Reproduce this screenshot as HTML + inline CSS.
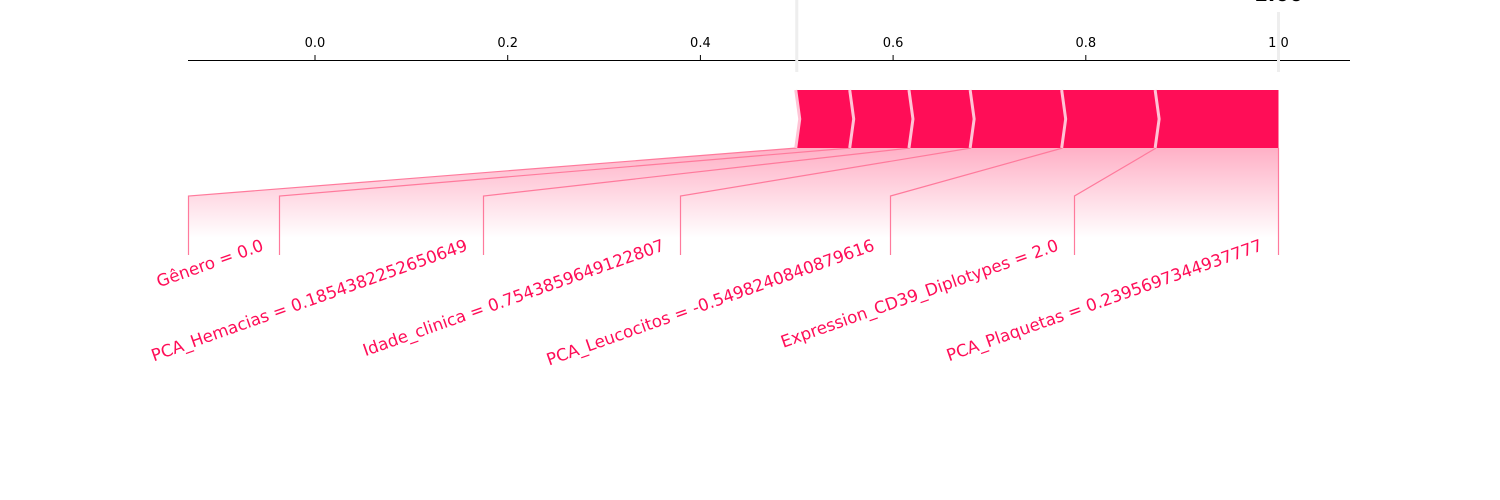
<!DOCTYPE html>
<html><head><meta charset="utf-8"><style>
html,body{margin:0;padding:0;background:#fff;}
svg{display:block;font-family:"DejaVu Sans","Liberation Sans",sans-serif;}
</style></head><body>
<svg id="chart" width="1500" height="500" viewBox="0 0 1500 500" xmlns="http://www.w3.org/2000/svg">
<defs>
<linearGradient id="fade" gradientUnits="userSpaceOnUse" x1="0" y1="148" x2="0" y2="238">
<stop offset="0" stop-color="#ffb0c6"/>
<stop offset="1" stop-color="#ffffff"/>
</linearGradient>
</defs>
<g id="axis"></g>
<g id="conn"></g>
<g id="bars"></g>
<g id="labels"></g>
</svg>
<script>
const baseValue = 0.5;
const outputValue = 1.0;
const outputLabel = "1.00";
const featureNames = ["Gênero = 0.0","PCA_Hemacias = 0.1854382252650649","Idade_clinica = 0.7543859649122807","PCA_Leucocitos = -0.5498240840879616","Expression_CD39_Diplotypes = 2.0","PCA_Plaquetas = 0.2395697344937777"];
const contributions = [0.056, 0.0615, 0.0635, 0.095, 0.097, 0.127];
const tickValues = [0.0, 0.2, 0.4, 0.6, 0.8, 1.0];
const tickLabels = ["0.0","0.2","0.4","0.6","0.8","1 0"];
const labelSlotWidths = [91, 204, 197, 210, 184, 204];

const NS = "http://www.w3.org/2000/svg";
const x = v => 315 + v * 963.5;
function mk(tag, attrs, parent){const e=document.createElementNS(NS,tag);for(const k in attrs)e.setAttribute(k,attrs[k]);parent.appendChild(e);return e;}

const axis = document.getElementById('axis');
let ln = mk('line',{x1:188,y1:60.5,x2:1350,y2:60.5,stroke:'#000','stroke-width':1},axis);


tickValues.forEach((v,i)=>{
  const t = mk('line',{x1:x(v),y1:55,x2:x(v),y2:60,stroke:'#000','stroke-width':1},axis);
  
  
  const tl = mk('text',{x:x(v),y:47,'text-anchor':'middle','font-size':13,fill:'#000'},axis);
  tl.textContent = tickLabels[i];
  
  
});
let bl = mk('line',{x1:x(baseValue),y1:0,x2:x(baseValue),y2:72,stroke:'#eeeeee','stroke-width':3},axis);


let ol = mk('line',{x1:x(outputValue),y1:12,x2:x(outputValue),y2:72,stroke:'#eeeeee','stroke-width':3},axis);


let ot = mk('text',{x:x(outputValue),y:1,'text-anchor':'middle','font-size':20,'font-weight':'bold',fill:'#000'},axis);
ot.textContent = outputLabel;



const bounds=[baseValue];
contributions.forEach(c=>bounds.push(bounds[bounds.length-1]+c));
const endX = x(outputValue);
const bx = bounds.map((b,i)=> i===bounds.length-1 ? endX : x(b));
const lx=[endX];
for(let i=labelSlotWidths.length-1;i>=0;i--) lx.unshift(lx[0]-labelSlotWidths[i]);

const conn = document.getElementById('conn');
const barTop=90, barBot=148, lblTop=196, lblBot=255;
for(let i=0;i<contributions.length;i++){
  const p = mk('polygon',{points:`${bx[i]},${barBot} ${bx[i+1]},${barBot} ${lx[i+1]},${lblTop} ${lx[i+1]},${lblBot} ${lx[i]},${lblBot} ${lx[i]},${lblTop}`,fill:'url(#fade)',stroke:'none'},conn);
  
  
}
for(let i=0;i<=contributions.length;i++){
  const pl = mk('polyline',{points:`${bx[i]},${barBot} ${lx[i]},${lblTop} ${lx[i]},${lblBot}`,fill:'none',stroke:'#ff7a9c','stroke-width':1.2},conn);
  
  
}

const bars = document.getElementById('bars');
const mid=(barTop+barBot)/2;
for(let i=0;i<contributions.length;i++){
  const a=bx[i], b=bx[i+1];
  const last = i===contributions.length-1;
  const pts = `${a},${barTop} ${b},${barTop} ${last?b:b+4},${mid} ${b},${barBot} ${a},${barBot} ${a+4},${mid}`;
  const r = mk('polygon',{points:pts,fill:'#ff0d57'},bars);
  
  
}
for(let i=0;i<contributions.length;i++){
  const a=bx[i];
  const s = mk('polyline',{points:`${a-1},${barTop} ${a+3},${mid} ${a-1},${barBot}`,fill:'none',stroke:'#ffc3d5','stroke-width':3},bars);
  
  
}

const labels = document.getElementById('labels');
featureNames.forEach((n,i)=>{
  const ex = lx[i+1]-15, ey = 250;
  const t = mk('text',{x:ex,y:ey,'text-anchor':'end','font-size':16.7,fill:'#ff0d57',transform:`rotate(-19.5 ${ex} ${ey})`},labels);
  t.textContent = n;
  
  
});
</script>
</body></html>
